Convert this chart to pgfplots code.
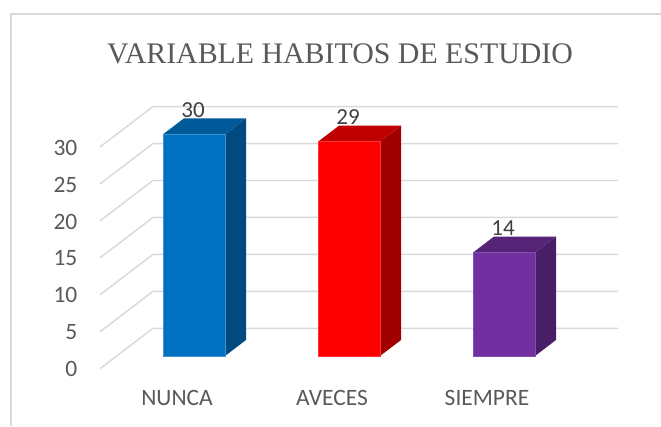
\documentclass[border=0pt]{standalone}
\usepackage{fontspec}
\setmainfont{Carlito}
\newfontfamily\titlefont{Liberation Serif}
\usepackage{pgfplots}
\pgfplotsset{compat=1.18}
\definecolor{gridgray}{HTML}{D9D9D9}
\definecolor{txtgray}{HTML}{595959}
\definecolor{lblgray}{HTML}{404040}
\definecolor{blueface}{HTML}{0070C0}
\definecolor{bluetop}{HTML}{005A9A}
\definecolor{blueside}{HTML}{004A80}
\definecolor{redtop}{HTML}{C00000}
\definecolor{redside}{HTML}{A00000}
\definecolor{purpface}{HTML}{7030A0}
\definecolor{purptop}{HTML}{552477}
\definecolor{purpside}{HTML}{481F66}
\pgfplotsset{
    gridline/.style={gridgray, line width=1.1pt, no marks, forget plot},
    face/.style={draw=none, no marks, forget plot},
    front/.style={ybar, bar width=46.5pt, bar shift=0pt, line width=0.4pt, nodes near coords,
        every node near coord/.append style={font=\fontsize{17.25}{20}\selectfont, text=lblgray,
        anchor=center, xshift=-0.75pt, yshift=18.4pt}},
}
\begin{document}
\begin{tikzpicture}
\begin{axis}[
    scale only axis,
    width=495.75pt, height=319.5pt,
    xmin=-1.2516, xmax=3.0129,
    ymin=-9.472, ymax=48.173,
    axis line style={draw=none},
    major tick style={draw=none},
    xtick={0,1,2},
    xticklabels={NUNCA,AVECES,SIEMPRE},
    ytick={0,5,10,15,20,25,30},
    /pgf/number format/assume math mode=true,
    tick label style={font=\fontsize{17.6}{20}\selectfont, text=txtgray},
    xticklabel style={anchor=center, xshift=-12.75pt, yshift=21pt},
    yticklabel style={anchor=east, xshift=61.5pt, yshift=-10pt},
    title={VARIABLE HABITOS DE ESTUDIO},
    title style={at={(axis description cs:0.5144,0.8546)}, anchor=center,
        font=\titlefont\fontsize{22.4}{26}\selectfont, text=txtgray},
]
% frame
\addplot[gridgray, line width=1.2pt, no marks, forget plot] coordinates {(-1.1806,-9.472) (-1.1806,46.28) (3.0129,46.28)};
% back wall grid
\addplot[gridline] coordinates {(-0.6065,-1.72) (-0.2645,3.75) (2.7355,3.75)};
\addplot[gridline] coordinates {(-0.6065,3.28) (-0.2645,8.75) (2.7355,8.75)};
\addplot[gridline] coordinates {(-0.6065,8.28) (-0.2645,13.75) (2.7355,13.75)};
\addplot[gridline] coordinates {(-0.6065,13.28) (-0.2645,18.75) (2.7355,18.75)};
\addplot[gridline] coordinates {(-0.6065,18.28) (-0.2645,23.75) (2.7355,23.75)};
\addplot[gridline] coordinates {(-0.6065,23.28) (-0.2645,28.75) (2.7355,28.75)};
\addplot[gridline] coordinates {(-0.6065,28.28) (-0.2645,33.75) (2.7355,33.75)};
% side and top faces
\addplot[face, fill=blueside] coordinates {(0.2,0) (0.3355,2.165) (0.3355,32.165) (0.2,30)} --cycle;
\addplot[face, fill=bluetop] coordinates {(-0.2,30) (0.2,30) (0.3355,32.165) (-0.0645,32.165)} --cycle;
\addplot[face, fill=redside] coordinates {(1.2,0) (1.3355,2.165) (1.3355,31.165) (1.2,29)} --cycle;
\addplot[face, fill=redtop] coordinates {(0.8,29) (1.2,29) (1.3355,31.165) (0.9355,31.165)} --cycle;
\addplot[face, fill=purpside] coordinates {(2.2,0) (2.3355,2.165) (2.3355,16.165) (2.2,14)} --cycle;
\addplot[face, fill=purptop] coordinates {(1.8,14) (2.2,14) (2.3355,16.165) (1.9355,16.165)} --cycle;
% front faces
\addplot[front, fill=blueface, draw=blueface!75!white] coordinates {(0,30)};
\addplot[front, fill=red, draw=red!80!white] coordinates {(1,29)};
\addplot[front, fill=purpface, draw=purpface!85!white] coordinates {(2,14)};
\end{axis}
\end{tikzpicture}
\end{document}
